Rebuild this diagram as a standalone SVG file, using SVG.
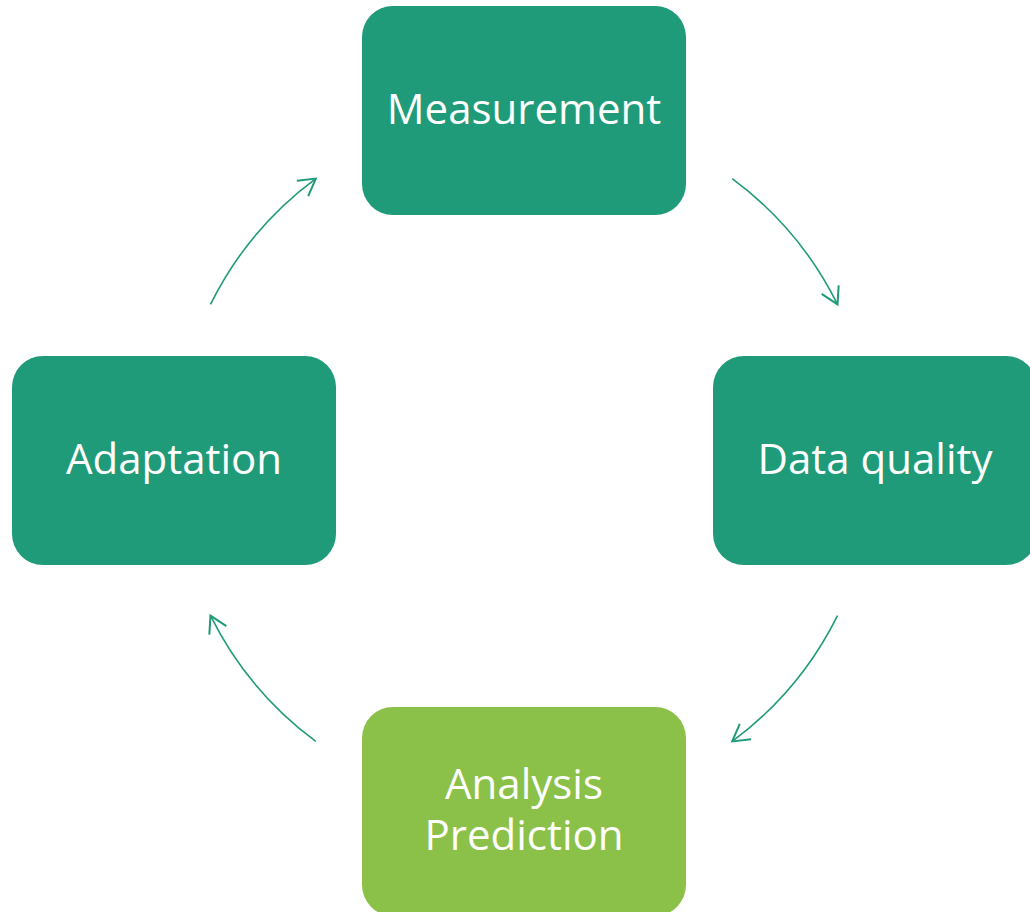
<svg xmlns="http://www.w3.org/2000/svg" width="1030" height="912" viewBox="0 0 1030 912">
  <style>
    .box { fill: #1F9B79; }
    .box.alt { fill: #8BC148; }
    .label { fill: #FFFFFF; font-family: "Open Sans", "Noto Sans", sans-serif; font-size: 42px; text-anchor: middle; }
    .flow { fill: none; stroke: #1F9B79; stroke-width: 1.6; marker-end: url(#head); }
  </style>
  <defs>
    <marker id="head" markerUnits="userSpaceOnUse" markerWidth="40" markerHeight="40" refX="0" refY="0" viewBox="-20 -20 40 40" orient="auto" overflow="visible">
      <path d="M -16.5,-9.5 L 0,0 L -16.5,9.5" fill="none" stroke="#1F9B79" stroke-width="2"/>
    </marker>
  </defs>

  <rect width="1030" height="912" fill="#FFFFFF"/>

  <!-- cycle connectors: arcs on a circle of radius 350 around (524,460) -->
  <g id="connectors">
    <path class="flow" d="M 732.2,178.6 A 350,350 0 0 1 837.5,304.4"/>
    <path class="flow" d="M 837.5,615.6 A 350,350 0 0 1 732.2,741.4"/>
    <path class="flow" d="M 315.8,741.4 A 350,350 0 0 1 210.5,615.6"/>
    <path class="flow" d="M 210.5,304.4 A 350,350 0 0 1 315.8,178.6"/>
  </g>

  <g id="measurement">
    <rect class="box" x="362" y="6" width="324" height="209" rx="31"/>
    <text class="label" x="524" y="124">Measurement</text>
  </g>

  <g id="data-quality">
    <rect class="box" x="713" y="356" width="324" height="209" rx="31"/>
    <text class="label" x="875" y="474">Data quality</text>
  </g>

  <g id="analysis-prediction">
    <rect class="box alt" x="362" y="707" width="324" height="209" rx="31"/>
    <text class="label" x="524" y="799"><tspan x="524" y="799">Analysis</tspan><tspan x="524" y="850">Prediction</tspan></text>
  </g>

  <g id="adaptation">
    <rect class="box" x="12" y="356" width="324" height="209" rx="31"/>
    <text class="label" x="174" y="474">Adaptation</text>
  </g>
</svg>
